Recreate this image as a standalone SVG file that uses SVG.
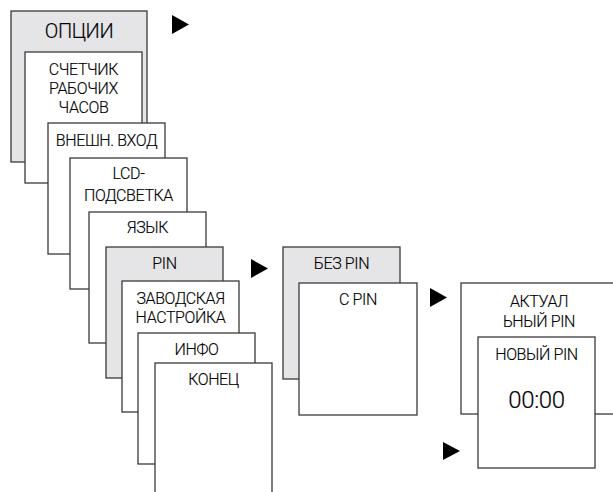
<svg xmlns="http://www.w3.org/2000/svg" width="613" height="492" viewBox="0 0 613 492">
<style>
.b{fill:#ffffff;stroke:#3a3a3a;stroke-width:1.3}
.g{fill:#e5e5e7;stroke:#3a3a3a;stroke-width:1.3}
text{font-family:Roboto,"Liberation Sans",sans-serif;font-size:16px;font-weight:300;letter-spacing:-0.4px;fill:#000;text-anchor:middle;stroke:#000;stroke-width:0.15}
.big{font-size:20px}
.num{font-size:24px}
.a{fill:#000}
</style>
<rect width="613" height="492" fill="#ffffff"/>
<g id="n-options"><rect class="g" x="11" y="11" width="136" height="151"/><text class="big" x="79" y="38">ОПЦИИ</text></g>
<g id="n-counter"><rect class="b" x="25" y="52" width="117" height="131"/><text x="83.5" y="75">СЧЕТЧИК</text><text x="83.5" y="94">РАБОЧИХ</text><text x="83.5" y="113">ЧАСОВ</text></g>
<g id="n-extin"><rect class="b" x="48" y="123" width="117" height="131"/><text x="106.5" y="146">ВНЕШН. ВХОД</text></g>
<g id="n-lcd"><rect class="b" x="70" y="158" width="117" height="131"/><text x="128.5" y="179">LCD-</text><text x="128.5" y="201">ПОДСВЕТКА</text></g>
<g id="n-lang"><rect class="b" x="89" y="212" width="117" height="131"/><text x="147.5" y="233">ЯЗЫК</text></g>
<g id="n-pin"><rect class="g" x="106" y="247" width="117" height="131"/><text x="164.5" y="269">PIN</text></g>
<g id="n-factory"><rect class="b" x="122" y="281" width="117" height="131"/><text x="180.5" y="304">ЗАВОДСКАЯ</text><text x="180.5" y="323">НАСТРОЙКА</text></g>
<g id="n-info"><rect class="b" x="138" y="333" width="117" height="131"/><text x="196.5" y="355">ИНФО</text></g>
<g id="n-end"><rect class="b" x="155" y="363" width="117" height="140"/><text x="213.5" y="385">КОНЕЦ</text></g>
<g id="n-nopin"><rect class="g" x="283" y="247" width="117" height="132"/><text x="341.5" y="269">БЕЗ PIN</text></g>
<g id="n-withpin"><rect class="b" x="299" y="283" width="118" height="132"/><text x="358" y="305">С PIN</text></g>
<g id="n-current"><rect class="b" x="461" y="283" width="156" height="131"/><text x="539" y="307">АКТУАЛ</text><text x="539" y="327">ЬНЫЙ PIN</text></g>
<g id="n-new"><rect class="b" x="478" y="337" width="117" height="131"/><text x="536.5" y="360">НОВЫЙ PIN</text><text class="num" x="536.5" y="408">00:00</text></g>
<g id="connectors">
<polygon class="a" points="172,15 189,24.5 172,34"/>
<polygon class="a" points="251,259 268,268.5 251,278"/>
<polygon class="a" points="430,288 447,297.5 430,307"/>
<polygon class="a" points="443,442 460,451 443,460"/>
</g>
</svg>
